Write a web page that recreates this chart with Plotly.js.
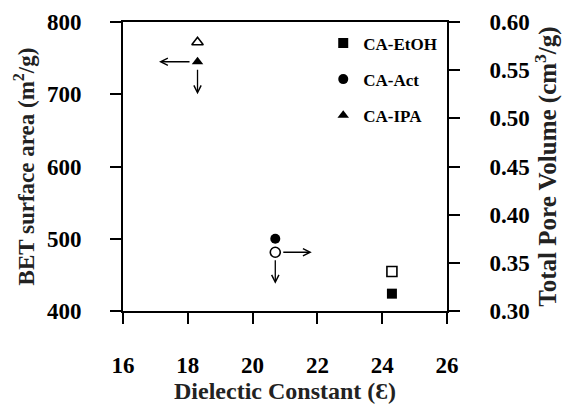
<!DOCTYPE html>
<html>
<head>
<meta charset="utf-8">
<script src="https://cdn.plot.ly/plotly-3.0.1.min.js"></script>
<style>html,body{margin:0;padding:0;background:#fff;}#chart{width:568px;height:410px;}</style>
</head>
<body>
<div id="chart"></div>
<script>
// ---- data ----
const sampleNames = ['CA-EtOH', 'CA-Act', 'CA-IPA'];
const dielectricConstant = [24.3, 20.7, 18.3];
const betSurfaceArea = [424, 500, 745];        // m2/g (left axis, filled markers)
const totalPoreVolume = [0.341, 0.361, 0.579]; // cm3/g (right axis, open markers)
const xTicks = [16, 18, 20, 22, 24, 26];
const yTicks = [400, 500, 600, 700, 800];
const y2Ticks = [0.30, 0.35, 0.40, 0.45, 0.50, 0.55, 0.60];

const filledSymbols = ['square', 'circle', 'triangle-up'];
const openSymbols = ['square-open', 'circle-open', 'triangle-up-open'];

const FONT = 'Liberation Serif, Times New Roman, serif';
const traces = [];
sampleNames.forEach((name, i) => {
  traces.push({
    type: 'scatter', mode: 'markers', name: name,
    x: [dielectricConstant[i]], y: [betSurfaceArea[i]],
    xaxis: 'x', yaxis: 'y', legendgroup: name,
    marker: {symbol: filledSymbols[i], size: 10, color: '#000', line: {width: 0}},
    hoverinfo: 'skip'
  });
});
sampleNames.forEach((name, i) => {
  traces.push({
    type: 'scatter', mode: 'markers', name: name + ' pore', showlegend: false,
    x: [dielectricConstant[i]], y: [totalPoreVolume[i]],
    xaxis: 'x', yaxis: 'y2',
    marker: {symbol: openSymbols[i], size: 10, color: '#000', line: {width: 1.6, color: '#000'}},
    hoverinfo: 'skip'
  });
});

function arrow(x, y, yref, ax, ay) {
  return {x: x, y: y, xref: 'x', yref: yref, text: '', showarrow: true,
    ax: ax, ay: ay, arrowside: 'start', arrowhead: 5, startarrowhead: 5,
    startarrowsize: 1.1, arrowwidth: 1.3, arrowcolor: '#000', standoff: 8};
}
const ipa = 2, act = 1;
const annotations = [
  arrow(dielectricConstant[ipa], betSurfaceArea[ipa], 'y', -40, 0),
  arrow(dielectricConstant[ipa], betSurfaceArea[ipa], 'y', 0, 34),
  arrow(dielectricConstant[act], totalPoreVolume[act], 'y2', 38, 0),
  arrow(dielectricConstant[act], totalPoreVolume[act], 'y2', 0, 33)
];

const tickFont = {family: FONT, size: 23, color: '#000', weight: 'bold'};
const titleFontL = {family: FONT, size: 23, color: '#222', weight: 'bold'};
const titleFontR = {family: FONT, size: 25, color: '#222', weight: 'bold'};
const titleFontX = {family: FONT, size: 24, color: '#222', weight: 'bold'};
const axisCommon = {showgrid: false, zeroline: false, showline: true, linewidth: 2, linecolor: '#000',
  ticks: 'outside', ticklen: 11, tickwidth: 2, tickcolor: '#000', tickfont: tickFont, automargin: false};

const layout = {
  width: 568, height: 410,
  margin: {l: 123, r: 121, t: 22, b: 99},
  paper_bgcolor: '#fff', plot_bgcolor: '#fff',
  showlegend: true,
  legend: {x: 0.618, y: 0.988, xanchor: 'left', yanchor: 'top', bgcolor: 'rgba(0,0,0,0)',
    font: {family: FONT, size: 17, color: '#000', weight: 'bold'}, tracegroupgap: 11, itemwidth: 30},
  xaxis: Object.assign({}, axisCommon, {range: [16, 26], tickvals: xTicks, mirror: true,
    ticklabelstandoff: 21,
    title: {text: 'Dielectic Constant (Ɛ)', font: titleFontX, standoff: 6}}),
  yaxis: Object.assign({}, axisCommon, {range: [400, 800], tickvals: yTicks, side: 'left',
    ticklabelstandoff: 24,
    title: {text: 'BET surface area (m<sup>2</sup>/g)', font: titleFontL, standoff: 6}}),
  yaxis2: Object.assign({}, axisCommon, {range: [0.30, 0.60], tickvals: y2Ticks, tickformat: '.2f',
    overlaying: 'y', side: 'right', ticklabelstandoff: 25,
    title: {text: 'Total Pore Volume (cm<sup>3</sup>/g)', font: titleFontR, standoff: 4}}),
  annotations: annotations
};

Plotly.newPlot('chart', traces, layout, {displayModeBar: false, staticPlot: true});
</script>
</body>
</html>
